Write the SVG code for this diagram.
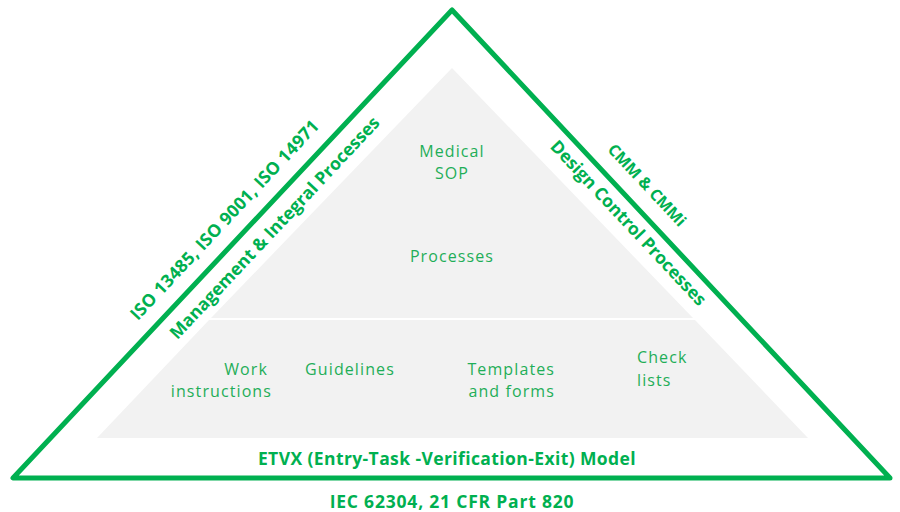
<svg xmlns="http://www.w3.org/2000/svg" width="900" height="512" viewBox="0 0 900 512">
<style>
.side{font-family:"Open Sans",Lato,sans-serif;font-weight:bold;font-size:16px;fill:#00b050;text-anchor:middle}
.side2{font-family:"Open Sans",Lato,sans-serif;font-weight:bold;font-size:17.5px;fill:#00b050;text-anchor:middle}
.lbl{font-family:"Open Sans",Lato,sans-serif;font-size:16px;letter-spacing:1.1px;fill:#1fae58}
.bold{font-family:"Open Sans",Lato,sans-serif;font-weight:bold;font-size:17.5px;letter-spacing:0.4px;fill:#00b050;text-anchor:middle}
</style>
<rect width="900" height="512" fill="#fff"/>
<g id="pyramid">
<polygon points="452,68 211,318 693,318" fill="#f2f2f2"/>
<polygon points="209,320 695,320 808,438 97,438" fill="#f2f2f2"/>
</g>
<g id="outer">
<polygon points="452,10 13,478 890,478" fill="none" stroke="#00b050" stroke-width="5" stroke-linejoin="round"/>
</g>
<g id="left-labels">
<text class="side2" style="letter-spacing:0.2px" transform="translate(229,224) rotate(-46.8)">ISO 13485, ISO 9001, ISO 14971</text>
<text class="side2" transform="translate(279,232) rotate(-46.8)">Management &amp; Integral Processes</text>
</g>
<g id="right-labels">
<text class="side" transform="translate(643,189) rotate(46.9)">CMM &amp; CMMi</text>
<text class="side2" transform="translate(624,227) rotate(46.9)">Design Control Processes</text>
</g>
<g id="medical-sop">
<text class="lbl" text-anchor="middle" x="452" y="157">Medical</text>
<text class="lbl" text-anchor="middle" x="452" y="179">SOP</text>
</g>
<g id="processes"><text class="lbl" text-anchor="middle" x="452" y="262">Processes</text></g>
<g id="work-instructions">
<text class="lbl" text-anchor="end" x="268" y="375">Work</text>
<text class="lbl" text-anchor="end" x="272" y="397">instructions</text>
</g>
<g id="guidelines"><text class="lbl" text-anchor="middle" x="350" y="375">Guidelines</text></g>
<g id="templates">
<text class="lbl" text-anchor="end" x="555" y="375">Templates</text>
<text class="lbl" text-anchor="end" x="555" y="397">and forms</text>
</g>
<g id="checklists">
<text class="lbl" x="637" y="363">Check</text>
<text class="lbl" x="637" y="386">lists</text>
</g>
<g id="etvx"><text class="bold" x="447" y="465">ETVX (Entry-Task -Verification-Exit) Model</text></g>
<g id="iec"><text class="bold" style="letter-spacing:0.8px" x="452" y="508">IEC 62304, 21 CFR Part 820</text></g>
</svg>
